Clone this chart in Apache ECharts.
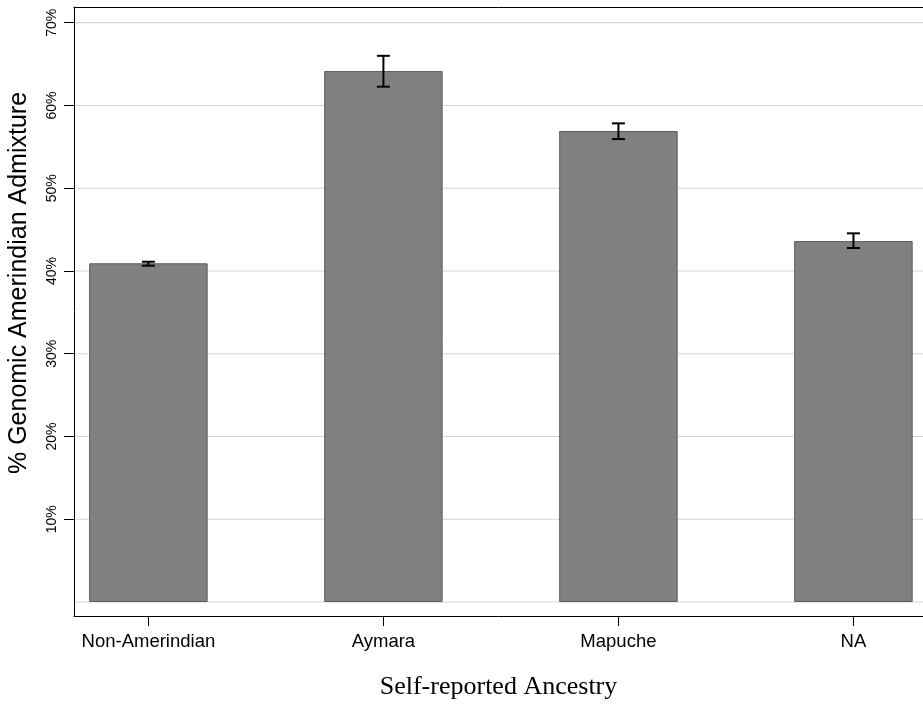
<!DOCTYPE html>
<html>
<head>
<meta charset="utf-8">
<title>Genomic Amerindian Admixture by Self-reported Ancestry</title>
<script src="https://cdn.jsdelivr.net/npm/echarts@6/dist/echarts.min.js"></script>
<style>
  html, body { margin: 0; padding: 0; background: #fff; }
  #chart { width: 923px; height: 707px; }
</style>
</head>
<body>
<div id="chart"></div>
<script>
// Groups and mean admixture (%) with the ends of each error bar
const categories = ['Non-Amerindian', 'Aymara', 'Mapuche', 'NA'];
const meanValues = [40.93, 64.16, 56.91, 43.62];
const lowerValues = [40.64, 62.27, 55.94, 42.78];
const upperValues = [41.12, 66.00, 57.84, 44.55];
const yTickValues = [10, 20, 30, 40, 50, 60, 70];
const gridValues = [0, 10, 20, 30, 40, 50, 60, 70];

const chart = echarts.init(document.getElementById('chart'), null, { renderer: 'canvas' });

const positions = categories.map((c, i) => i);
const barData = meanValues.map((v, i) => [positions[i], v]);
const errData = meanValues.map((v, i) => [positions[i], lowerValues[i], upperValues[i]]);
const gridData = gridValues.map(v => [0, v]);

const sansFont = '"Liberation Sans", Arial, Helvetica, sans-serif';

const option = {
  backgroundColor: '#ffffff',
  animation: false,
  grid: { left: 74, right: 0, top: 7, bottom: 91, containLabel: false },
  xAxis: [
    {
      type: 'value',
      min: -0.3166,
      max: 3.296,
      axisLine: { show: true, onZero: false, lineStyle: { color: '#000', width: 1 } },
      axisTick: { show: true, length: 10, customValues: positions, lineStyle: { color: '#000', width: 1 } },
      axisLabel: {
        show: true,
        customValues: positions,
        margin: 16,
        color: '#000',
        fontFamily: sansFont,
        fontSize: 18.5,
        formatter: v => categories[Math.round(v)] || ''
      },
      splitLine: { show: false }
    },
    {
      type: 'value',
      position: 'top',
      min: -0.3166,
      max: 3.296,
      axisLine: { show: true, onZero: false, lineStyle: { color: '#000', width: 1 } },
      axisTick: { show: false },
      axisLabel: { show: false },
      splitLine: { show: false }
    }
  ],
  yAxis: {
    type: 'value',
    min: -1.69,
    max: 71.9,
    axisLine: { show: true, onZero: false, lineStyle: { color: '#000', width: 1 } },
    axisTick: { show: true, length: 10, customValues: yTickValues, lineStyle: { color: '#000', width: 1 } },
    axisLabel: {
      show: true,
      customValues: yTickValues,
      rotate: 90,
      margin: 15,
      color: '#000',
      fontFamily: sansFont,
      fontSize: 14,
      formatter: v => v + '%'
    },
    splitLine: { show: false }
  },
  series: [
    {
      // horizontal reference lines behind the bars
      type: 'custom',
      z: 0,
      silent: true,
      data: gridData,
      encode: { x: 0, y: 1 },
      renderItem: function (params, api) {
        const cs = params.coordSys;
        const y = api.coord([0, api.value(1)])[1];
        return {
          type: 'line',
          shape: { x1: cs.x, y1: y, x2: cs.x + cs.width, y2: y },
          style: { stroke: '#d6d6d6', lineWidth: 1.2 }
        };
      }
    },
    {
      type: 'bar',
      z: 2,
      barWidth: 118.5,
      data: barData,
      itemStyle: { color: '#808080', borderColor: '#5e5e5e', borderWidth: 1 }
    },
    {
      // error bars: vertical stem with caps
      type: 'custom',
      z: 3,
      silent: true,
      data: errData,
      encode: { x: 0, y: [1, 2] },
      renderItem: function (params, api) {
        const x = api.value(0);
        const lo = api.coord([x, api.value(1)]);
        const hi = api.coord([x, api.value(2)]);
        const half = 6.5;
        const style = { stroke: '#000', lineWidth: 2 };
        return {
          type: 'group',
          children: [
            { type: 'line', shape: { x1: lo[0], y1: lo[1], x2: hi[0], y2: hi[1] }, style: style },
            { type: 'line', shape: { x1: lo[0] - half, y1: lo[1], x2: lo[0] + half, y2: lo[1] }, style: style },
            { type: 'line', shape: { x1: hi[0] - half, y1: hi[1], x2: hi[0] + half, y2: hi[1] }, style: style }
          ]
        };
      }
    }
  ],
  graphic: [
    {
      type: 'text',
      x: 19,
      y: 283,
      rotation: Math.PI / 2,
      style: {
        text: '% Genomic Amerindian Admixture',
        fill: '#000',
        font: '25px "Liberation Sans", Arial, sans-serif',
        textAlign: 'center',
        textVerticalAlign: 'middle'
      }
    },
    {
      type: 'text',
      x: 498.5,
      y: 687,
      style: {
        text: 'Self-reported Ancestry',
        fill: '#000',
        font: '26px "Liberation Serif", "Times New Roman", serif',
        textAlign: 'center',
        textVerticalAlign: 'middle'
      }
    }
  ]
};

chart.setOption(option);
</script>
</body>
</html>
